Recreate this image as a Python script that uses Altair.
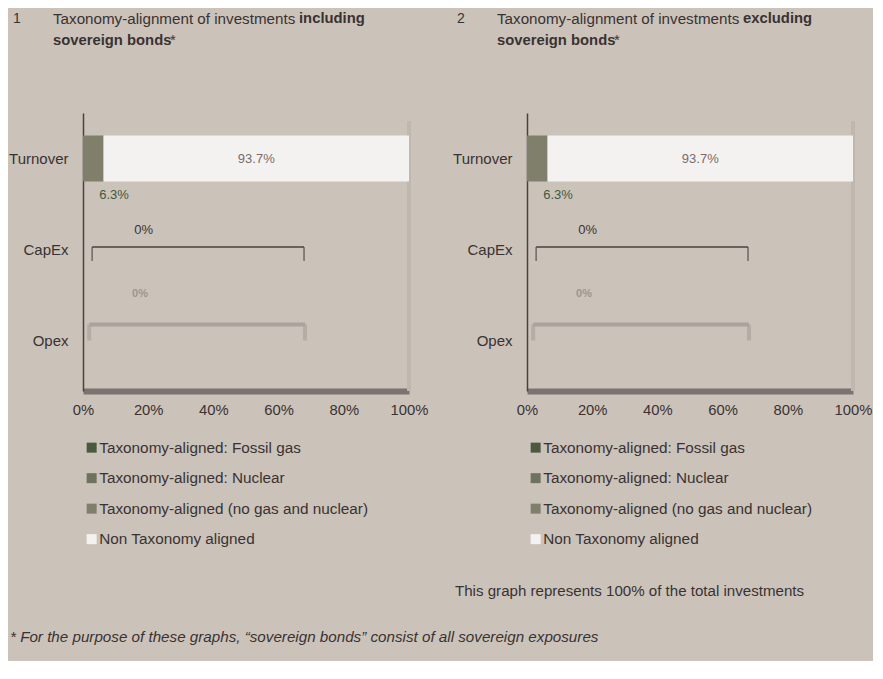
import altair as alt
import pandas as pd

# ---------------- data ----------------
categories = ["Turnover", "CapEx", "Opex"]
series = [
    "Taxonomy-aligned: Fossil gas",
    "Taxonomy-aligned: Nuclear",
    "Taxonomy-aligned (no gas and nuclear)",
    "Non Taxonomy aligned",
]
turnover_vals = [0.0, 0.0, 6.3, 93.7]
capex_vals = [0.0, 0.0, 0.0, 0.0]
opex_vals = [0.0, 0.0, 0.0, 0.0]
series_colors = ["#4a5a3e", "#6e735f", "#7f7f6b", "#f3f2f0"]
x_ticks = [0, 20, 40, 60, 80, 100]

panel_numbers = ["1", "2"]
panel_titles = ["Taxonomy-alignment of investments", "Taxonomy-alignment of investments"]
panel_bold = ["including", "excluding"]
capex_bracket = [2.8, 67.8]
opex_bracket = [1.9, 68.1]

FONT = "Liberation Sans"
TXT = "#3a3232"
BG = "#cbc3ba"

rows = []
for cat, vals in zip(categories, [turnover_vals, capex_vals, opex_vals]):
    for i, (s, v) in enumerate(zip(series, vals)):
        rows.append({"category": cat, "series": s, "value": v, "order": i})
df = pd.DataFrame(rows)

labels_df = pd.DataFrame([{"category": "Turnover", "x": 6.3 + 93.7 / 2, "label": "93.7%"}])
small_df = pd.DataFrame([{"category": "Turnover", "x": 9.5, "label": "6.3%"}])
zero_df = pd.DataFrame([{"category": "CapEx", "x": 18.6, "label": "0%"}])
blob_df = pd.DataFrame([{"category": "Opex", "x": 17.5, "label": "0%"}])
capex_df = pd.DataFrame([{"category": "CapEx", "x": capex_bracket[0], "x2": capex_bracket[1]}])
capex_ticks = pd.DataFrame([{"category": "CapEx", "x": v} for v in capex_bracket])
opex_df = pd.DataFrame([{"category": "Opex", "x": opex_bracket[0], "x2": opex_bracket[1]}])
opex_ticks = pd.DataFrame([{"category": "Opex", "x": v} for v in opex_bracket])

W, H = 326, 278

yenc = alt.Y(
    "category:N",
    sort=categories,
    scale=alt.Scale(domain=categories, paddingInner=0, paddingOuter=5 / 182, align=0),
    axis=alt.Axis(
        title=None, ticks=False, domain=True, domainColor="#4a4040", domainWidth=1.5,
        labelFont=FONT, labelFontSize=15, labelColor=TXT, labelPadding=15,
    ),
)
xscale = alt.Scale(domain=[0, 100], nice=False)


def panel(idx, show_note):
    bars = alt.Chart(df).mark_bar(size=46).encode(
        x=alt.X(
            "value:Q", stack="zero", scale=xscale,
            axis=alt.Axis(
                title=None, values=x_ticks, ticks=False, grid=False,
                domainColor="#7a7370", domainWidth=6, labelPadding=11,
                labelFont=FONT, labelFontSize=14.8, labelColor=TXT,
                labelExpr="datum.value + '%'", labelFlush=False,
            ),
        ),
        y=yenc,
        color=alt.Color(
            "series:N",
            scale=alt.Scale(domain=series, range=series_colors),
            legend=alt.Legend(
                title=None, orient="none", legendX=1, legendY=327, direction="vertical",
                symbolType="square", symbolSize=100, symbolStrokeWidth=0,
                labelFont=FONT, labelFontSize=15.3, labelColor=TXT, labelOffset=0,
                rowPadding=14.5, symbolOpacity=1, labelLimit=500,
            ),
        ),
        order=alt.Order("order:Q"),
    )
    edge = alt.Chart(pd.DataFrame({"x": [100]})).mark_rule(color="#c0b7ae", strokeWidth=4).encode(
        x=alt.X("x:Q", scale=xscale), y=alt.value(8), y2=alt.value(H)
    )
    big = alt.Chart(labels_df).mark_text(font=FONT, fontSize=13, color="#7b6b6b").encode(
        x=alt.X("x:Q", scale=xscale), y=alt.Y("category:N", sort=categories), text="label:N"
    )
    small = alt.Chart(small_df).mark_text(font=FONT, fontSize=13, color="#3f5a3c", yOffset=36).encode(
        x=alt.X("x:Q", scale=xscale), y=alt.Y("category:N", sort=categories), text="label:N"
    )
    zero = alt.Chart(zero_df).mark_text(font=FONT, fontSize=13, color=TXT, yOffset=-20).encode(
        x=alt.X("x:Q", scale=xscale), y=alt.Y("category:N", sort=categories), text="label:N"
    )
    blob = alt.Chart(blob_df).mark_text(font=FONT, fontSize=11, color="#9d9593", yOffset=-47, fontWeight="bold").encode(
        x=alt.X("x:Q", scale=xscale), y=alt.Y("category:N", sort=categories), text="label:N"
    )
    cap_h = alt.Chart(capex_df).mark_rule(color="#4a4040", strokeWidth=1.5, yOffset=-2.5).encode(
        x=alt.X("x:Q", scale=xscale), x2="x2:Q", y=alt.Y("category:N", sort=categories)
    )
    cap_t = alt.Chart(capex_ticks).mark_tick(color="#4a4040", thickness=1.5, size=14, orient="vertical", yOffset=4.5).encode(
        x=alt.X("x:Q", scale=xscale), y=alt.Y("category:N", sort=categories)
    )
    op_h = alt.Chart(opex_df).mark_rule(color="#aaa39d", strokeWidth=4, yOffset=-16).encode(
        x=alt.X("x:Q", scale=xscale), x2="x2:Q", y=alt.Y("category:N", sort=categories)
    )
    op_t = alt.Chart(opex_ticks).mark_tick(color="#aaa39d", thickness=4, size=16, orient="vertical", yOffset=-8).encode(
        x=alt.X("x:Q", scale=xscale), y=alt.Y("category:N", sort=categories)
    )

    def txt(text, x, y, **kw):
        return alt.Chart(pd.DataFrame({"t": [text]})).mark_text(
            font=FONT, align="left", baseline="middle", color=TXT, **kw
        ).encode(text="t:N", x=alt.value(x), y=alt.value(y))

    num = txt(panel_numbers[idx], -70, -94, fontSize=14)
    t1 = txt(panel_titles[idx], -30, -94, fontSize=15.2)
    t1b = txt(panel_bold[idx], 216, -94, fontSize=14.8, fontWeight="bold")
    t2 = txt("sovereign bonds", -30, -72, fontSize=14.8, fontWeight="bold")
    t2s = txt("*", 87, -72, fontSize=14.8)

    layers = [edge, bars, big, small, zero, blob, cap_h, cap_t, op_h, op_t, num, t1, t1b, t2, t2s]
    if show_note:
        layers.append(txt("This graph represents 100% of the total investments", -72, 478, fontSize=15.1))
    else:
        layers.append(txt("* For the purpose of these graphs, \u201csovereign bonds\u201d consist of all sovereign exposures",
                          -73, 524, fontSize=15.2, fontStyle="italic"))
    return alt.layer(*layers).properties(width=W, height=H)


chart = alt.hconcat(panel(0, False), panel(1, True), spacing=118, bounds="flush").resolve_scale(
    color="independent"
).resolve_legend(color="independent").properties(
    background=BG, padding={"left": 0, "top": 3, "right": 1, "bottom": 15}
).configure_view(stroke=None)

chart.save("out.html", embed_options={"renderer": "svg", "actions": False})
